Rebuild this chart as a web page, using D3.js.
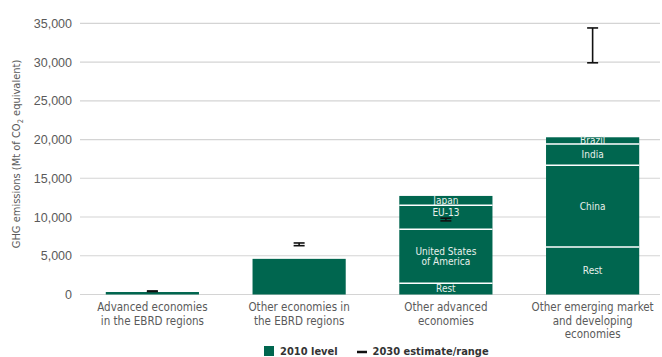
<!DOCTYPE html>
<html>
<head>
<meta charset="utf-8">
<script src="https://cdn.jsdelivr.net/npm/d3@7/dist/d3.min.js"></script>
<style>
  html, body { margin: 0; padding: 0; background: #fff; }
  svg { display: block; font-family: "DejaVu Sans Condensed", "Liberation Sans", sans-serif; }
</style>
</head>
<body>
<svg id="chart" width="662" height="357"></svg>
<script>
// Regions (x categories), each label split into lines
const categories = [
  ["Advanced economies", "in the EBRD regions"],
  ["Other economies in", "the EBRD regions"],
  ["Other advanced", "economies"],
  ["Other emerging market", "and developing", "economies"]
];

// 2010 emissions by segment, bottom to top (Mt CO2e)
const segmentNames = [
  [""],
  [""],
  ["Rest", "United States|of America", "EU-13", "Japan"],
  ["Rest", "China", "India", "Brazil"]
];
const segmentValues = [
  [320],
  [4600],
  [1450, 6970, 3100, 1200],
  [6130, 10550, 2750, 860]
];

// 2030 estimate range [low, high]
const estimateLow  = [380, 6300, 9500, 29900];
const estimateHigh = [460, 6650, 9850, 34400];

const yTicks = [0, 5000, 10000, 15000, 20000, 25000, 30000, 35000];
const yTitle = "GHG emissions (Mt of CO";
const legendLabels = ["2010 level", "2030 estimate/range"];

const green = "#00664f";
const svg = d3.select("#chart");

const x = d3.scaleBand()
  .domain(d3.range(categories.length))
  .range([79, 666])
  .paddingInner(0.365)
  .paddingOuter(0.1825);

const y = d3.scaleLinear().domain([0, 35000]).range([294.5, 23.3]);

// gridlines
svg.append("g")
  .selectAll("line")
  .data(yTicks)
  .join("line")
  .attr("x1", 80).attr("x2", 660)
  .attr("y1", d => y(d)).attr("y2", d => y(d))
  .attr("stroke", "#d4d4d4").attr("stroke-width", 1.2);

// y axis labels
const yAxis = svg.append("g")
  .attr("transform", "translate(80,0)")
  .call(d3.axisLeft(y).tickValues(yTicks).tickSize(0).tickPadding(8).tickFormat(d3.format(",")));
yAxis.select(".domain").remove();
yAxis.selectAll("text")
  .attr("fill", "#5a5a5a").style("font-size", "12.5px")
  .style("font-family", "inherit");

// y axis title
const title = svg.append("text")
  .attr("transform", "translate(20,154) rotate(-90)")
  .attr("text-anchor", "middle")
  .attr("fill", "#5a5a5a")
  .style("font-size", "11px");
title.append("tspan").text(yTitle);
title.append("tspan").text("2").attr("dy", 3).style("font-size", "7.5px");
title.append("tspan").text(" equivalent)").attr("dy", -3);

// stacked bars
const bars = svg.append("g");
segmentValues.forEach((vals, i) => {
  const stacked = d3.cumsum(vals);
  const g = bars.append("g");
  vals.forEach((v, j) => {
    const lo = j === 0 ? 0 : stacked[j - 1];
    const hi = stacked[j];
    g.append("rect")
      .attr("x", x(i)).attr("width", x.bandwidth())
      .attr("y", y(hi)).attr("height", y(lo) - y(hi))
      .attr("fill", green);
  });
  // segment labels
  vals.forEach((v, j) => {
    const name = segmentNames[i][j];
    if (!name) return;
    const lo = j === 0 ? 0 : stacked[j - 1];
    const hi = stacked[j];
    const lines = name.split("|");
    const shift = name === "EU-13" ? -5 : 0;
    const cy = (y(lo) + y(hi)) / 2 + shift;
    const lh = 10;
    const t = g.append("text")
      .attr("text-anchor", "middle")
      .attr("fill", "#e8f0ec")
      .style("font-size", "10px");
    lines.forEach((ln, k) => {
      t.append("tspan")
        .attr("x", x(i) + x.bandwidth() / 2)
        .attr("y", cy + 3.5 + (k - (lines.length - 1) / 2) * lh)
        .text(ln);
    });
  });
  // separators between segments
  stacked.slice(0, -1).forEach(s => {
    g.append("line")
      .attr("x1", x(i)).attr("x2", x(i) + x.bandwidth())
      .attr("y1", y(s)).attr("y2", y(s))
      .attr("stroke", "#ffffff").attr("stroke-width", 1.5);
  });
});

// 2030 estimate ranges
const err = svg.append("g").attr("stroke", "#111").attr("stroke-width", 1.6);
estimateLow.forEach((lo, i) => {
  const cx = x(i) + x.bandwidth() / 2;
  const hw = 5.5;
  err.append("line").attr("x1", cx).attr("x2", cx).attr("y1", y(lo)).attr("y2", y(estimateHigh[i]));
  err.append("line").attr("x1", cx - hw).attr("x2", cx + hw).attr("y1", y(lo)).attr("y2", y(lo));
  err.append("line").attr("x1", cx - hw).attr("x2", cx + hw).attr("y1", y(estimateHigh[i])).attr("y2", y(estimateHigh[i]));
});

// category labels
categories.forEach((lines, i) => {
  const t = svg.append("text")
    .attr("text-anchor", "middle")
    .attr("fill", "#5a5a5a")
    .style("font-size", "11.5px");
  lines.forEach((ln, k) => {
    t.append("tspan")
      .attr("x", x(i) + x.bandwidth() / 2)
      .attr("y", 311 + k * 13.7)
      .text(ln);
  });
});

// legend
const lg = svg.append("g");
lg.append("rect").attr("x", 264).attr("y", 346).attr("width", 10).attr("height", 10).attr("fill", green);
lg.append("text").attr("x", 280).attr("y", 355).attr("fill", "#333")
  .style("font-size", "11px").style("font-weight", "bold").text(legendLabels[0]);
lg.append("line").attr("x1", 357).attr("x2", 367).attr("y1", 352).attr("y2", 352)
  .attr("stroke", "#111").attr("stroke-width", 2.5);
lg.append("text").attr("x", 372.5).attr("y", 355).attr("fill", "#333")
  .style("font-size", "11px").style("font-weight", "bold").text(legendLabels[1]);
</script>
</body>
</html>
